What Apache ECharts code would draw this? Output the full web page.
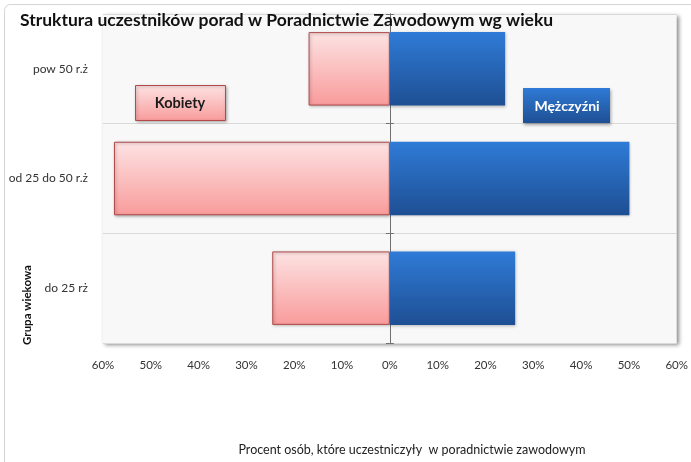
<!DOCTYPE html>
<html>
<head>
<meta charset="utf-8">
<script src="https://cdn.jsdelivr.net/npm/echarts@6/dist/echarts.min.js"></script>
<style>
html,body{margin:0;padding:0;background:#fff;}
#c{width:691px;height:462px;}
</style>
</head>
<body>
<div id="c"></div>
<script>
var titleText = 'Struktura uczestników porad w Poradnictwie Zawodowym wg wieku';
var categories = ['do 25 rż', 'od 25 do 50 r.ż', 'pow 50 r.ż'];
var womenValues = [24.6, 57.7, 17.0];
var menValues = [26.2, 50.1, 24.1];
var tickValues = [-60, -50, -40, -30, -20, -10, 0, 10, 20, 30, 40, 50, 60];
var womenName = 'Kobiety';
var menName = 'Mężczyźni';
var yAxisName = 'Grupa wiekowa';
var xAxisName = 'Procent osób, które uczestniczyły  w poradnictwie zawodowym';

var FONT = 'Lato, "Open Sans", sans-serif';
var chart = echarts.init(document.getElementById('c'));
var gridL = 103, gridR = 14, gridT = 14, gridB = 119;

var zeroAxis = function (pos) {
  return {
    type: 'category', data: categories, position: pos,
    axisLine: {show: true, onZero: true, onZeroAxisIndex: 0, lineStyle: {color: '#707070', width: 1}},
    axisTick: {show: true, length: 4, inside: false, lineStyle: {color: '#707070'}},
    axisLabel: {show: false}, splitLine: {show: false}
  };
};

var option = {
  backgroundColor: '#ffffff',
  animation: false,
  textStyle: {fontFamily: FONT},
  grid: {left: gridL, right: gridR, top: gridT, bottom: gridB, show: true,
    backgroundColor: '#f8f8f8', borderColor: '#d0d0d0', borderWidth: 0,
    shadowColor: 'rgba(0,0,0,0.45)', shadowBlur: 4, shadowOffsetX: 2, shadowOffsetY: 2},
  xAxis: {
    type: 'value', min: -60, max: 60, interval: 10,
    axisLine: {show: false, onZero: false}, axisTick: {show: false},
    splitLine: {show: false},
    axisLabel: {formatter: function (v) { return Math.abs(v) + '%'; },
      color: '#333', fontSize: 11.5, margin: 16, fontFamily: FONT}
  },
  yAxis: [{
    type: 'category', data: categories,
    axisLine: {show: false, onZero: false}, axisTick: {show: false},
    splitLine: {show: true, lineStyle: {color: '#d9d9d9', width: 1}},
    axisLabel: {color: '#333', fontSize: 12, margin: 15, fontFamily: FONT}
  }, zeroAxis('left'), zeroAxis('right')],
  series: [{
    name: womenName, type: 'bar', stack: 'all', yAxisIndex: 0, barWidth: '67%',
    data: womenValues.map(function (v) { return -v; }),
    itemStyle: {
      color: new echarts.graphic.LinearGradient(0, 0, 0, 1, [
        {offset: 0, color: '#fde3e3'}, {offset: 1, color: '#f99b9b'}]),
      borderColor: '#b24a4a', borderWidth: 1,
      shadowColor: 'rgba(0,0,0,0.3)', shadowBlur: 3, shadowOffsetX: 1, shadowOffsetY: 1
    }
  }, {
    name: menName, type: 'bar', stack: 'all', yAxisIndex: 0, barWidth: '67%',
    data: menValues,
    itemStyle: {
      color: new echarts.graphic.LinearGradient(0, 0, 0, 1, [
        {offset: 0, color: '#2f7bd7'}, {offset: 1, color: '#1e4f93'}]),
      shadowColor: 'rgba(0,0,0,0.3)', shadowBlur: 3, shadowOffsetX: 1, shadowOffsetY: 1
    }
  }],
  graphic: [
    {type: 'rect', left: 2, top: 2, shape: {width: 720, height: 500, r: 6}, silent: true, z: -10,
      style: {fill: 'none', stroke: '#d4d4d4', lineWidth: 1}},
    {type: 'text', x: 20, y: 20, z: 20,
      style: {text: titleText, font: 'bold 17.5px ' + FONT, fill: '#111', verticalAlign: 'middle'}},
    {type: 'rect', left: 135, top: 85, z: 20,
      shape: {width: 90, height: 35},
      style: {fill: new echarts.graphic.LinearGradient(0, 0, 0, 1, [
          {offset: 0, color: '#fde3e3'}, {offset: 1, color: '#f99b9b'}]),
        stroke: '#b24a4a', lineWidth: 1,
        shadowColor: 'rgba(0,0,0,0.3)', shadowBlur: 3, shadowOffsetX: 1, shadowOffsetY: 1}},
    {type: 'text', x: 180, y: 103, z: 21,
      style: {text: womenName, font: 'bold 14.5px ' + FONT, fill: '#1a1a1a', align: 'center', verticalAlign: 'middle'}},
    {type: 'rect', left: 523, top: 88, z: 20,
      shape: {width: 87, height: 35},
      style: {fill: new echarts.graphic.LinearGradient(0, 0, 0, 1, [
          {offset: 0, color: '#2f7bd7'}, {offset: 1, color: '#1e4f93'}]),
        shadowColor: 'rgba(0,0,0,0.35)', shadowBlur: 3, shadowOffsetX: 1, shadowOffsetY: 2}},
    {type: 'text', x: 567, y: 106, z: 21,
      style: {text: menName, font: 'bold 14px ' + FONT, fill: '#ffffff', align: 'center', verticalAlign: 'middle'}},
    {type: 'text', x: 27, y: 305, rotation: Math.PI / 2, z: 20,
      style: {text: yAxisName, font: 'bold 11.5px ' + FONT, fill: '#111', align: 'center', verticalAlign: 'middle'}},
    {type: 'text', x: 412, y: 450, z: 20,
      style: {text: xAxisName, font: '12.5px ' + FONT, fill: '#222', align: 'center', verticalAlign: 'middle'}}
  ]
};
chart.setOption(option);
</script>
</body>
</html>
